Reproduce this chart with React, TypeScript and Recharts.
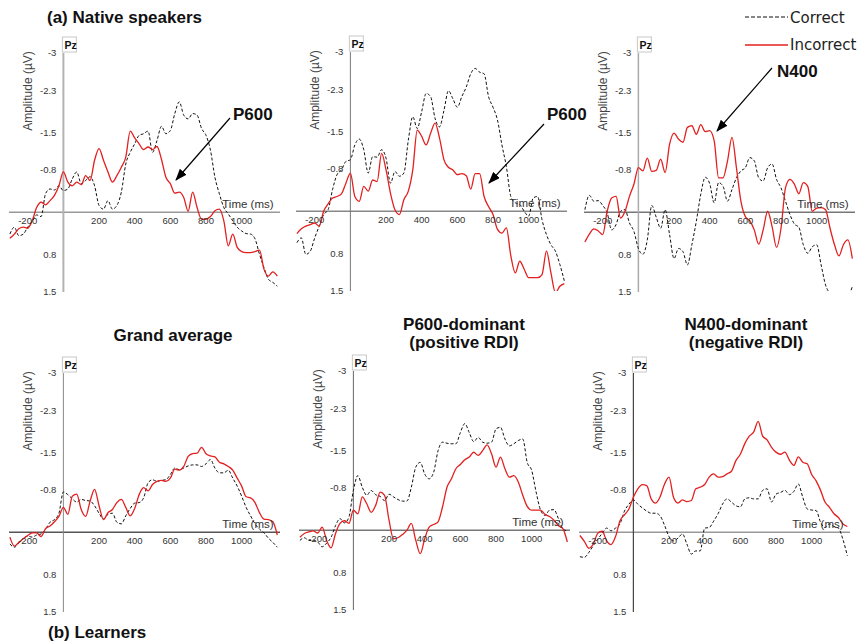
import React from 'react';
import { LineChart, Line, XAxis, YAxis, ReferenceLine, ReferenceDot } from 'recharts';

// time points (ms), shared by every panel
const times = [
  -300, -275, -250, -225, -200, -175, -150, -125, -100, -75, -50, -25,
  0, 25, 50, 75, 100, 125, 150, 175, 200, 225, 250, 275,
  300, 325, 350, 375, 400, 425, 450, 475, 500, 525, 550, 575,
  600, 625, 650, 675, 700, 725, 750, 775, 800, 825, 850, 875,
  900, 925, 950, 975, 1000, 1025, 1050, 1075, 1100, 1125, 1150, 1175,
  1200,
];

const xTicks = [-200, 200, 400, 600, 800, 1000];
const yTicks = [-3, -2.3, -1.5, -0.8, 0.8, 1.5];

// (a) native speakers - grand average
const nativeAvgCorrect = [
  0.41, 0.28, 0.44, 0.41, 0.28, 0.17, 0.05, 0.08, -0.35, -0.44, -0.42, -0.5,
  -0.41, -0.44, -0.63, -0.76, -0.54, -0.6, -0.67, -0.5, -0.13, -0.06, -0.22, -0.06,
  -0.13, -0.38, -0.91, -1.13, -1.29, -1.45, -1.48, -1.53, -1.13, -1.35, -1.62, -1.48,
  -1.54, -1.86, -2.08, -1.83, -1.76, -1.86, -1.83, -1.58, -1.45, -1.17, -0.66, -0.35,
  -0.09, 0.03, 0.16, 0.28, 0.35, 0.4, 0.41, 0.5, 0.79, 1.04, 1.26, 1.32,
  1.39,
];
const nativeAvgIncorrect = [
  0.49, 0.41, 0.31, 0.28, 0.3, 0.16, -0.09, -0.19, -0.14, -0.22, -0.32, -0.5,
  -0.76, -0.57, -0.5, -0.57, -0.52, -0.69, -0.6, -0.98, -1.2, -0.98, -0.76, -0.57,
  -0.69, -0.85, -1.04, -1.53, -1.4, -1.29, -1.18, -1.23, -1.18, -1.24, -1.0, -0.66,
  -0.54, -0.36, -0.38, -0.28, -0.02, -0.38, -0.09, 0.13, 0.13, 0.08, -0.03, -0.06,
  0.16, 0.63, 0.41, 0.66, 0.74, 0.76, 0.76, 0.74, 0.71, 1.07, 1.2, 1.12,
  1.2,
];

// native speakers - P600-dominant
const nativeP600Correct = [
  0.59, 0.5, 0.81, 0.75, 0.5, 0.28, 0.06, -0.03, -0.41, -0.69, -0.78, -0.94,
  -0.97, -1.25, -1.36, -1.16, -0.72, -1.03, -1.02, -1.16, -1.0, -0.53, -0.75, -0.66,
  -0.72, -1.34, -1.78, -1.56, -1.88, -2.22, -2.16, -1.75, -1.59, -1.9, -2.27, -2.12,
  -1.96, -2.16, -2.34, -2.59, -2.69, -2.62, -2.59, -2.16, -1.96, -1.72, -1.25, -0.84,
  -0.28, -0.16, -0.13, 0.0, 0.09, -0.25, -0.28, 0.16, 0.44, 0.63, 0.75, 1.0,
  1.31,
];
const nativeP600Incorrect = [
  0.42, 0.33, 0.28, 0.25, 0.22, 0.28, 0.0, -0.14, -0.25, -0.28, -0.33, -0.53,
  -0.72, -0.28, -0.19, -0.47, -0.38, -0.59, -0.56, -1.09, -0.78, -0.34, -0.03, 0.06,
  -0.22, -0.38, -0.78, -1.53, -1.41, -1.25, -1.47, -1.66, -1.38, -0.97, -0.83, -0.78,
  -0.69, -0.71, -0.67, -0.42, -0.71, -0.71, -0.28, -0.09, 0.06, 0.34, 0.41, 0.31,
  0.84, 1.16, 0.94, 1.09, 1.25, 1.25, 1.25, 1.19, 0.75, 1.16, 1.53, 1.41,
  1.36,
];

// native speakers - N400-dominant
const nativeN400Correct = [
  -0.05, -0.32, -0.21, -0.22, -0.13, 0.01, 0.33, 0.23, -0.02, -0.05, 0.2, 0.36,
  0.68, 0.79, 0.52, -0.13, 0.09, 0.3, -0.05, 0.42, 0.87, 0.68, 0.74, 0.99,
  0.61, 0.17, -0.34, -0.66, -0.54, -0.18, -0.56, -0.49, -0.21, -0.43, -0.65, -0.78,
  -0.84, -1.03, -0.97, -0.65, -0.59, -0.84, -0.91, -0.62, -0.46, -0.21, 0.04, 0.22,
  0.28, 0.61, 0.77, 0.65, 0.61, 0.99, 1.37, 1.53, 1.63, 1.6, 1.53, 1.56,
  1.4,
];
const nativeN400Incorrect = [
  0.56, 0.41, 0.31, 0.35, 0.42, -0.02, -0.27, -0.3, 0.11, -0.02, -0.3, -0.53,
  -0.84, -0.78, -1.02, -0.77, -0.79, -1.0, -0.75, -1.28, -1.49, -1.38, -1.32, -1.6,
  -1.63, -1.47, -1.65, -1.52, -1.54, -1.35, -0.65, -0.65, -0.97, -1.41, -0.84, -0.21,
  0.08, 0.16, 0.33, 0.6, 0.33, -0.02, 0.27, 0.66, 0.3, -0.46, -0.62, -0.53,
  -0.35, -0.56, -0.49, -0.02, -0.08, -0.09, -0.05, 0.3, 0.61, 0.82, 0.61, 0.52,
  0.87,
];

// (b) learners - grand average
const learnerAvgCorrect = [
  0.22, 0.28, 0.2, 0.12, 0.07, 0.09, 0.05, 0.03, -0.06, -0.19, -0.24, -0.36,
  -0.76, -0.71, -0.63, -0.57, -0.62, -0.6, -0.59, -0.5, -0.36, -0.25, -0.34, -0.36,
  -0.19, -0.16, -0.31, -0.45, -0.55, -0.56, -0.65, -0.93, -0.99, -0.96, -0.98, -0.99,
  -1.09, -1.21, -1.18, -1.21, -1.25, -1.27, -1.27, -1.24, -1.29, -1.37, -1.21, -1.12,
  -1.12, -1.17, -1.02, -0.87, -0.68, -0.47, -0.31, -0.16, -0.06, 0.01, 0.11, 0.19,
  0.28,
];
const learnerAvgIncorrect = [
  0.09, 0.26, 0.19, 0.12, 0.06, 0.01, 0.01, 0.08, -0.07, -0.12, -0.2, -0.3,
  -0.47, -0.34, -0.68, -0.72, -0.43, -0.3, -0.59, -0.81, -0.5, -0.24, -0.37, -0.43,
  -0.56, -0.62, -0.47, -0.31, -0.45, -0.71, -0.84, -0.78, -0.9, -0.96, -0.98, -0.96,
  -1.02, -1.19, -1.17, -1.24, -1.43, -1.48, -1.49, -1.6, -1.48, -1.44, -1.42, -1.32,
  -1.29, -1.24, -1.17, -1.02, -0.87, -0.67, -0.65, -0.56, -0.37, -0.25, -0.24, -0.2,
  0.05,
];

// learners - P600-dominant
const learnerP600Correct = [
  0.19, 0.14, 0.19, 0.19, 0.22, 0.31, 0.24, 0.13, -0.09, -0.22, -0.14, -0.25,
  -0.75, -1.03, -0.81, -0.66, -0.75, -0.67, -0.64, -0.56, -0.68, -0.63, -0.58, -0.55,
  -0.55, -0.81, -1.19, -1.28, -1.06, -0.97, -1.09, -1.5, -1.66, -1.64, -1.63, -1.63,
  -1.84, -2.01, -1.84, -1.67, -1.75, -1.66, -1.64, -1.66, -1.91, -1.94, -1.72, -1.59,
  -1.63, -1.69, -1.72, -1.28, -1.13, -0.72, -0.38, -0.28, -0.38, -0.39, -0.22, -0.03,
  0.01,
];
const learnerP600Incorrect = [
  0.13, 0.06, 0.03, 0.01, 0.05, -0.06, 0.19, 0.33, 0.06, -0.13, -0.18, -0.13,
  -0.38, -0.31, -0.63, -0.5, -0.34, -0.47, -0.72, -0.66, -0.19, 0.16, 0.14, 0.08,
  0.0, -0.13, 0.19, 0.44, 0.16, -0.06, -0.11, -0.16, -0.44, -0.81, -0.97, -1.16,
  -1.24, -1.33, -1.38, -1.47, -1.41, -1.5, -1.61, -1.44, -1.19, -1.38, -1.16, -1.0,
  -1.03, -0.91, -0.66, -0.45, -0.38, -0.38, -0.38, -0.3, -0.26, -0.19, -0.09, -0.03,
  0.22,
];

// learners - N400-dominant
const learnerN400Correct = [
  0.46, 0.47, 0.38, 0.25, 0.13, 0.02, -0.08, -0.03, -0.08, -0.16, -0.4, -0.53,
  -0.61, -0.53, -0.46, -0.4, -0.36, -0.36, -0.31, -0.13, 0.08, 0.16, 0.11, 0.03,
  0.22, 0.41, 0.35, 0.35, -0.08, -0.09, -0.21, -0.35, -0.53, -0.63, -0.57, -0.5,
  -0.48, -0.63, -0.65, -0.63, -0.63, -0.79, -0.82, -0.57, -0.72, -0.75, -0.79, -0.71,
  -0.77, -0.91, -0.66, -0.44, -0.42, -0.41, -0.19, -0.09, -0.16, -0.11, -0.08, 0.13,
  0.44,
];
const learnerN400Incorrect = [
  0.06, 0.17, 0.3, 0.22, 0.02, -0.02, 0.16, 0.23, 0.08, -0.22, -0.33, -0.44,
  -0.66, -0.82, -0.9, -0.88, -0.63, -0.55, -0.67, -0.91, -1.04, -0.66, -0.55, -0.61,
  -0.58, -0.6, -0.82, -0.85, -0.9, -1.04, -1.1, -1.04, -1.05, -1.1, -1.15, -1.35,
  -1.47, -1.67, -1.81, -1.89, -2.09, -1.81, -1.74, -1.6, -1.51, -1.47, -1.51, -1.36,
  -1.26, -1.42, -1.32, -1.29, -1.09, -0.97, -0.79, -0.57, -0.47, -0.35, -0.28, -0.16,
  -0.11,
];

const PLOT_W = 271;
const PLOT_H = 239;
const X_DOMAIN: [number, number] = [-305, 1215];
const Y_DOMAIN: [number, number] = [-3, 1.5];
const M = { top: 20, right: 8, bottom: 20, left: 8 };
const FONT = '"Liberation Sans", Arial, sans-serif';
const RED = '#e31f1f';

// pixel of the y axis (t = 0) inside a panel
const AXIS_OFFSET = (PLOT_W * 305) / 1520;

type PanelProps = {
  left: number;
  top: number;
  correct: number[];
  incorrect: number[];
  yAxisColor: string;
  yAxisWidth: number;
  xAxisColor: string;
};

function ErpPanel({ left, top, correct, incorrect, yAxisColor, yAxisWidth, xAxisColor }: PanelProps) {
  const data = times.map((t, i) => ({ t, correct: correct[i], incorrect: incorrect[i] }));
  return (
    <div style={{ position: 'absolute', left: left - M.left, top: top - M.top }}>
      <LineChart
        width={PLOT_W + M.left + M.right}
        height={PLOT_H + M.top + M.bottom}
        data={data}
        margin={M}
      >
        <XAxis dataKey="t" type="number" domain={X_DOMAIN} allowDataOverflow hide />
        <YAxis type="number" domain={Y_DOMAIN} reversed allowDataOverflow hide />
        <ReferenceLine y={0} stroke={xAxisColor} strokeWidth={1.5} />
        <ReferenceLine x={0} stroke={yAxisColor} strokeWidth={yAxisWidth} />
        {xTicks.map((t) => (
          <ReferenceDot
            key={`x${t}`}
            x={t}
            y={0}
            r={0}
            fill="none"
            stroke="none"
            label={{ value: t, position: 'bottom', offset: 5, fontSize: 9.5, fill: '#333' }}
          />
        ))}
        {yTicks.map((v) => (
          <ReferenceDot
            key={`y${v}`}
            x={0}
            y={v}
            r={0}
            fill="none"
            stroke="none"
            label={{ value: v, position: 'left', offset: 7, fontSize: 9.5, fill: '#333' }}
          />
        ))}
        <ReferenceDot
          x={1035}
          y={0}
          r={0}
          fill="none"
          stroke="none"
          label={{ value: 'Time (ms)', position: 'top', offset: 4, fontSize: 11.5, fill: '#333' }}
        />
        <Line
          type="monotone"
          dataKey="correct"
          stroke="#111"
          strokeWidth={1}
          strokeDasharray="3 2"
          dot={false}
          isAnimationActive={false}
        />
        <Line
          type="monotone"
          dataKey="incorrect"
          stroke={RED}
          strokeWidth={1.3}
          dot={false}
          isAnimationActive={false}
        />
      </LineChart>
    </div>
  );
}

const panels: PanelProps[] = [
  { left: 9, top: 53, correct: nativeAvgCorrect, incorrect: nativeAvgIncorrect, yAxisColor: '#b3b3b3', yAxisWidth: 2, xAxisColor: '#999' },
  { left: 296, top: 52, correct: nativeP600Correct, incorrect: nativeP600Incorrect, yAxisColor: '#777', yAxisWidth: 1, xAxisColor: '#888' },
  { left: 584, top: 53, correct: nativeN400Correct, incorrect: nativeN400Incorrect, yAxisColor: '#aaa', yAxisWidth: 1.5, xAxisColor: '#777' },
  { left: 9, top: 373, correct: learnerAvgCorrect, incorrect: learnerAvgIncorrect, yAxisColor: '#888', yAxisWidth: 1, xAxisColor: '#555' },
  { left: 299, top: 371, correct: learnerP600Correct, incorrect: learnerP600Incorrect, yAxisColor: '#666', yAxisWidth: 1, xAxisColor: '#777' },
  { left: 579, top: 373, correct: learnerN400Correct, incorrect: learnerN400Incorrect, yAxisColor: '#444', yAxisWidth: 1.2, xAxisColor: '#999' },
];

function PanelDecor({ left, top }: { left: number; top: number }) {
  const a0 = left + AXIS_OFFSET;
  const ly = top + 38;
  return (
    <g>
      <rect x={a0 - 1} y={top - 16} width={14} height={15} fill="#fff" stroke="#c8c8c8" strokeWidth={1} />
      <text x={a0 + 1} y={top - 4} fontSize={10.5} fontWeight="bold" fill="#111">Pz</text>
      <text
        x={a0 - 31}
        y={ly}
        fontSize={12}
        fill="#444"
        textAnchor="middle"
        transform={`rotate(-90, ${a0 - 31}, ${ly})`}
      >
        Amplitude (µV)
      </text>
    </g>
  );
}

export default function App() {
  return (
    <div
      style={{
        position: 'absolute',
        left: 0,
        top: 0,
        width: 865,
        height: 644,
        background: '#fff',
        fontFamily: FONT,
        overflow: 'hidden',
      }}
    >
      {panels.map((p, i) => (
        <ErpPanel key={i} {...p} />
      ))}
      <svg
        width={865}
        height={644}
        style={{ position: 'absolute', left: 0, top: 0, pointerEvents: 'none' }}
        fontFamily={FONT}
      >
        <defs>
          <marker id="head" markerWidth={12} markerHeight={9} refX={11} refY={4.5} orient="auto" markerUnits="userSpaceOnUse">
            <path d="M0,0 L12,4.5 L0,9 z" fill="#000" />
          </marker>
        </defs>
        {panels.map((p, i) => (
          <PanelDecor key={i} left={p.left} top={p.top} />
        ))}

        <text x={47} y={23} fontSize={17} fontWeight="bold" fill="#111">(a) Native speakers</text>
        <text x={48} y={638} fontSize={17} fontWeight="bold" fill="#111">(b) Learners</text>

        <text x={173} y={341} fontSize={17} fontWeight="bold" fill="#111" textAnchor="middle">Grand average</text>
        <text x={464} y={330} fontSize={17} fontWeight="bold" fill="#111" textAnchor="middle">P600-dominant</text>
        <text x={464} y={348} fontSize={17} fontWeight="bold" fill="#111" textAnchor="middle">(positive RDI)</text>
        <text x={746} y={330} fontSize={17} fontWeight="bold" fill="#111" textAnchor="middle">N400-dominant</text>
        <text x={746} y={348} fontSize={17} fontWeight="bold" fill="#111" textAnchor="middle">(negative RDI)</text>

        <text x={233} y={120} fontSize={17} fontWeight="bold" fill="#111">P600</text>
        <line x1={230} y1={118} x2={176} y2={180} stroke="#000" strokeWidth={1.2} markerEnd="url(#head)" />
        <text x={547} y={120} fontSize={17} fontWeight="bold" fill="#111">P600</text>
        <line x1={544} y1={124} x2={489} y2={183} stroke="#000" strokeWidth={1.2} markerEnd="url(#head)" />
        <text x={777} y={77} fontSize={17} fontWeight="bold" fill="#111">N400</text>
        <line x1={772} y1={68} x2={717} y2={131} stroke="#000" strokeWidth={1.2} markerEnd="url(#head)" />

        <line x1={745} y1={17} x2={788} y2={17} stroke="#111" strokeWidth={1.2} strokeDasharray="4 2" />
        <text x={790} y={23} fontSize={15} fill="#222" fontFamily='"DejaVu Sans", Verdana, sans-serif'>Correct</text>
        <line x1={745} y1={45} x2={788} y2={45} stroke={RED} strokeWidth={1.3} />
        <text x={790} y={50} fontSize={15} fill="#222" fontFamily='"DejaVu Sans", Verdana, sans-serif'>Incorrect</text>
      </svg>
    </div>
  );
}
